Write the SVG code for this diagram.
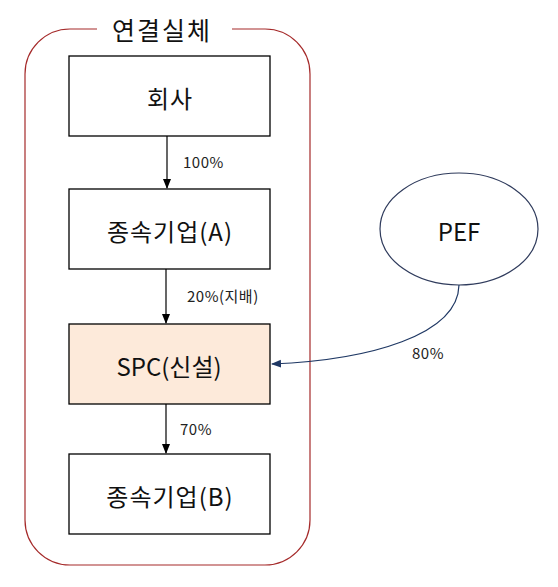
<svg xmlns="http://www.w3.org/2000/svg" width="558" height="587" viewBox="0 0 558 587">
<defs>
<style>
.box{fill:#ffffff;stroke:#000000;stroke-width:1.3}
.t{font-family:"Malgun Gothic","Noto Sans CJK KR",sans-serif;fill:#111111;text-anchor:middle;dominant-baseline:central}
.big{font-size:24px;letter-spacing:1px}
.lbl{font-family:"Malgun Gothic","Noto Sans CJK KR",sans-serif;fill:#222222;font-size:15px;letter-spacing:0.5px}
.con{fill:none;stroke:#000000;stroke-width:1.2}
</style>
<marker id="ah" markerWidth="10" markerHeight="10" refX="9" refY="5" orient="auto" markerUnits="userSpaceOnUse">
<path d="M0,1 L10,5 L0,9 Z" fill="#000000"/>
</marker>
<marker id="ahb" markerWidth="10" markerHeight="10" refX="9" refY="5" orient="auto" markerUnits="userSpaceOnUse">
<path d="M0,1 L10,5 L0,9 Z" fill="#1f3864"/>
</marker>
</defs>
<rect width="558" height="587" fill="#ffffff"/>
<g id="group-frame">
<path d="M97,29 L70,29 A45,45 0 0 0 25,74 L25,520 A45,45 0 0 0 70,565 L265,565 A45,45 0 0 0 310,520 L310,74 A45,45 0 0 0 265,29 L232,29" fill="none" stroke="#a52a2a" stroke-width="1.2"/>
<text class="t" x="162" y="29" font-size="25" letter-spacing="2">연결실체</text>
</g>
<g id="node-company">
<rect class="box" x="69" y="56" width="201" height="80"/>
<text class="t big" x="170" y="97">회사</text>
</g>
<g id="node-subA">
<rect class="box" x="69" y="189" width="201" height="80"/>
<text class="t big" x="170" y="230">종속기업(A)</text>
</g>
<g id="node-spc">
<rect x="69" y="324" width="201" height="80" fill="#fdeada" stroke="#000000" stroke-width="1.3"/>
<text class="t" x="169" y="365" font-size="24">SPC(신설)</text>
</g>
<g id="node-subB">
<rect class="box" x="69" y="454" width="201" height="80"/>
<text class="t big" x="170" y="495">종속기업(B)</text>
</g>
<g id="node-pef">
<ellipse cx="459" cy="229" rx="79" ry="56" fill="#ffffff" stroke="#2f3b5c" stroke-width="1.2"/>
<text class="t" x="459" y="230" font-size="24">PEF</text>
</g>
<g id="connectors">
<line class="con" x1="167" y1="136" x2="167" y2="188" marker-end="url(#ah)"/>
<line class="con" x1="166" y1="269" x2="166" y2="323" marker-end="url(#ah)"/>
<line class="con" x1="166" y1="404" x2="166" y2="453" marker-end="url(#ah)"/>
<path d="M459,285 C458,335 370,360 272,364" fill="none" stroke="#1f3864" stroke-width="1.2" marker-end="url(#ahb)"/>
<text class="lbl" x="183" y="168">100%</text>
<text class="lbl" x="187" y="302">20%(지배)</text>
<text class="lbl" x="180" y="435">70%</text>
<text class="lbl" x="412" y="359">80%</text>
</g>
</svg>
